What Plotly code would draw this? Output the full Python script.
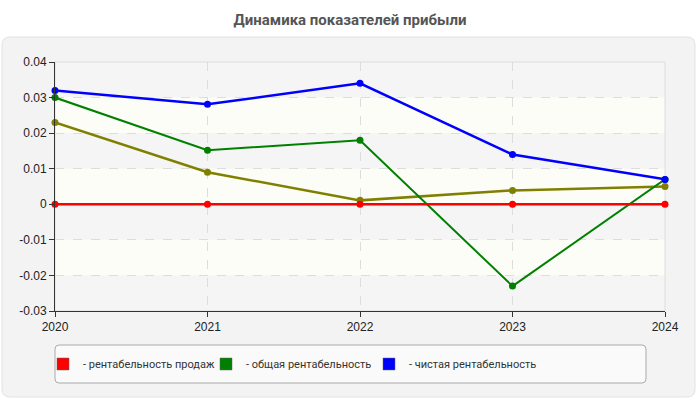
import plotly.graph_objects as go

years = [2020, 2021, 2022, 2023, 2024]
sales_rent = [0, 0, 0, 0, 0]
total_rent = [0.030, 0.0152, 0.018, -0.023, 0.007]
net_rent = [0.032, 0.0281, 0.034, 0.014, 0.007]
other_rent = [0.023, 0.009, 0.0011, 0.0039, 0.005]

series_names = ["- рентабельность продаж", "- общая рентабельность", "- чистая рентабельность"]
y_ticks = [0.04, 0.03, 0.02, 0.01, 0, -0.01, -0.02, -0.03]
y_tick_text = ["0.04", "0.03", "0.02", "0.01", "0", "-0.01", "-0.02", "-0.03"]
title_text = "Динамика показателей прибыли"

RED, GREEN, BLUE, OLIVE = "#ff0000", "#008000", "#0000ff", "#808000"

fig = go.Figure()

def line(y, color, width):
    fig.add_trace(go.Scatter(x=years, y=y, mode="lines+markers",
                             line=dict(color=color, width=width),
                             marker=dict(color=color, size=7),
                             cliponaxis=False, showlegend=False, hoverinfo="x+y"))

line(other_rent, OLIVE, 2.5)
line(total_rent, GREEN, 2)
line(net_rent, BLUE, 2.5)
line(sales_rent, RED, 2.5)

# legend entries (rectangular swatches)
for name, col in zip(series_names, [RED, GREEN, BLUE]):
    fig.add_trace(go.Bar(x=[None], y=[None], name=name,
                         marker=dict(color=col, line=dict(color="#666", width=0.5))))
# invisible spacer entry so the last label is not clipped
fig.add_trace(go.Bar(x=[None], y=[None], name=" ",
                     marker=dict(color="rgba(0,0,0,0)", line=dict(width=0))))

# geometry of the plot area in pixels
L, R, T, B = 55, 665, 62, 311
W, H = R - L, B - T
def px(x): return (x - L) / W
def py(y): return (B - y) / H

def rounded(xa, ya, xb, yb, r):
    x0, x1, y0, y1 = px(xa), px(xb), py(yb), py(ya)
    rx, ry = r / W, r / H
    return (f"M {x0+rx},{y0} L {x1-rx},{y0} Q {x1},{y0} {x1},{y0+ry} "
            f"L {x1},{y1-ry} Q {x1},{y1} {x1-rx},{y1} L {x0+rx},{y1} "
            f"Q {x0},{y1} {x0},{y1-ry} L {x0},{y0+ry} Q {x0},{y0} {x0+rx},{y0} Z")

shapes = []
# outer rounded panel
shapes.append(dict(type="path", path=rounded(2, 37, 695, 397, 8), xref="paper", yref="paper",
                   fillcolor="#f3f3f3", line=dict(color="#e2e2e2", width=1), layer="below"))
# legend box
shapes.append(dict(type="path", path=rounded(55, 345, 646, 383, 4), xref="paper", yref="paper",
                   fillcolor="#fafafa", line=dict(color="#aaaaaa", width=1), layer="below"))
# alternating bands
for i in range(len(y_ticks) - 1):
    shapes.append(dict(type="rect", xref="paper", yref="y", x0=0, x1=1,
                       y0=y_ticks[i + 1], y1=y_ticks[i],
                       fillcolor="#f5f5f5" if i % 2 == 0 else "#fdfdf7",
                       line=dict(width=0), layer="below"))
# light border
shapes.append(dict(type="rect", xref="paper", yref="paper", x0=0, x1=1, y0=0, y1=1,
                   line=dict(color="#dddddd", width=1), layer="below"))

fig.update_layout(
    width=700, height=400,
    margin=dict(l=L, r=700 - R, t=T, b=400 - B, autoexpand=False),
    paper_bgcolor="white", plot_bgcolor="white",
    shapes=shapes,
    title=dict(text=f"<b>{title_text}</b>", x=0.5, xanchor="center", y=0.95, yanchor="middle",
               font=dict(family="Roboto, Liberation Sans, sans-serif", size=15, color="#555555")),
    font=dict(family="Liberation Sans, Arial, sans-serif", size=12, color="#222222"),
    xaxis=dict(range=[2020, 2024], tickvals=years, ticktext=[str(y) for y in years],
               showgrid=True, gridcolor="#dddddd", griddash="dash", gridwidth=1,
               showline=True, linecolor="#333333", linewidth=1, automargin=False,
               ticks="outside", ticklen=5, tickcolor="#333333", zeroline=False),
    yaxis=dict(range=[-0.03, 0.04], tickvals=y_ticks, ticktext=y_tick_text,
               showgrid=True, gridcolor="#dddddd", griddash="dash", gridwidth=1,
               showline=True, linecolor="#333333", linewidth=1, automargin=False,
               ticks="outside", ticklen=5, tickcolor="#333333", zeroline=False),
    legend=dict(orientation="h", x=px(43), xanchor="left", y=py(364), yanchor="middle",
                bgcolor="rgba(0,0,0,0)", borderwidth=0,
                font=dict(family="Roboto, sans-serif", size=11, color="#333333"),
                itemwidth=30, entrywidth=118, tracegroupgap=0),
    showlegend=True,
)

fig.write_html("out.html", config={"displayModeBar": False},
               post_script="document.body.style.margin='0';")
